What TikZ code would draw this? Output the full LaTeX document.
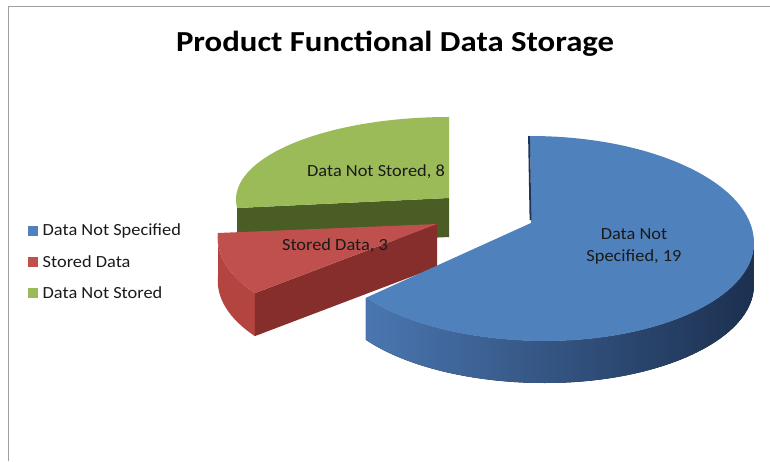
\documentclass[tikz,border=0pt]{standalone}
\usepackage{fontspec}
\setmainfont{Carlito}
\newfontfamily\chartfont{Carlito}[FakeStretch=1.08]
\newfontfamily\titlefont{Carlito}[FakeStretch=1.13]
\definecolor{pieBlue}{HTML}{4F81BD}
\definecolor{blueSideL}{HTML}{4A76B0}
\definecolor{blueSideM}{HTML}{2C4D7D}
\definecolor{blueSideR}{HTML}{1C3050}
\definecolor{blueEdge}{HTML}{1F3556}
\definecolor{pieRed}{HTML}{C0504D}
\definecolor{redSide}{HTML}{B3443F}
\definecolor{redFace}{HTML}{862E2C}
\definecolor{pieGreen}{HTML}{9BBB59}
\definecolor{greenFace}{HTML}{4A5D24}
\definecolor{frameGray}{HTML}{A0A0A0}
\definecolor{labelInk}{HTML}{1A1A1A}
\begin{document}
\begin{tikzpicture}[x=1pt,y=1pt,
  sliceLabel/.style={font=\chartfont\fontsize{17}{22}\selectfont, text=labelInk, inner sep=0pt, align=center},
  legendText/.style={font=\chartfont\fontsize{17}{20}\selectfont, text=labelInk, anchor=west, inner sep=0pt},
  legendKey/.style={minimum size=10pt, inner sep=0pt, draw=none}]
\useasboundingbox (0,0) rectangle (770,461);
\fill[white] (0,0) rectangle (770,461);

% chart frame (top and left edges)
\coordinate (frameTL) at (8.5,454.5);
\coordinate (frameBL) at (8.5,0);
\coordinate (frameTR) at (770,454.5);
\draw[frameGray, line width=1.3pt] (frameBL) -- (frameTL) -- (frameTR);

% title
\node[font=\titlefont\bfseries\fontsize{29}{33}\selectfont, anchor=base, inner sep=0pt] (title) at (395,409) {Product Functional Data Storage};

% --- green slice (Data Not Stored), exploded to the back left
\coordinate (gApex) at (449,263);
\coordinate (gTop) at (449,344);
\coordinate (gLeft) at (237.2,253);
\fill[greenFace] (gApex) -- (gLeft) -- (237.2,214) -- (449,224) -- cycle;
\fill[pieGreen] (gApex) -- (gTop) arc[start angle=90,end angle=186,x radius=213,y radius=82.4] -- cycle;

% --- red slice (Stored Data), exploded to the left
\coordinate (rApex) at (437,237);
\coordinate (rLeft) at (218,228);
\coordinate (rFront) at (254.9,167.9);
\fill[redSide] (rLeft) arc[start angle=177,end angle=215.5,x radius=200,y radius=95]
  -- ++(0,-43) arc[start angle=215.5,end angle=177,x radius=200,y radius=95] -- cycle;
\fill[redFace] (rApex) -- (rFront) -- ++(0,-43) -- (437,194) -- cycle;
\fill[pieRed] (rApex) -- (rLeft) arc[start angle=177,end angle=215.5,x radius=200,y radius=95] -- cycle;

% --- blue slice (Data Not Specified)
\coordinate (bApex) at (531,238);
\coordinate (bTop) at (530,325);
\coordinate (bLeft) at (365.9,163.2);
\fill[left color=blueSideL, middle color=blueSideM, right color=blueSideR]
  (bLeft) -- ++(0,-42)
  arc[start angle=214,end angle=270,x radius=216,y radius=98]
  arc[start angle=270,end angle=360,x radius=209,y radius=98]
  -- ++(0,42)
  arc[start angle=0,end angle=-90,x radius=209,y radius=98]
  arc[start angle=270,end angle=214,x radius=216,y radius=98] -- cycle;
\fill[pieBlue] (bApex) -- (bTop)
  arc[start angle=90,end angle=0,x radius=224,y radius=107]
  arc[start angle=0,end angle=-90,x radius=209,y radius=98]
  arc[start angle=270,end angle=214,x radius=216,y radius=98] -- cycle;
\coordinate (bEdgeTop) at (529,325);
\coordinate (bEdgeLow) at (530.5,241);
\draw[blueEdge, line width=1.8pt] (bEdgeTop) -- (bEdgeLow);

% data labels
\node[sliceLabel] (lblGreen) at (376,289) {Data Not Stored, 8};
\node[sliceLabel] (lblRed) at (335,215) {Stored Data, 3};
\node[sliceLabel] (lblBlue) at (634,215) {Data Not\\Specified, 19};

% legend
\node[legendKey, fill=pieBlue] (keyBlue) at (33,230) {};
\node[legendText] (txtBlue) at (42.5,230) {Data Not Specified};
\node[legendKey, fill=pieRed] (keyRed) at (33,199) {};
\node[legendText] (txtRed) at (42.5,199) {Stored Data};
\node[legendKey, fill=pieGreen] (keyGreen) at (33,168) {};
\node[legendText] (txtGreen) at (42.5,168) {Data Not Stored};
\end{tikzpicture}
\end{document}
